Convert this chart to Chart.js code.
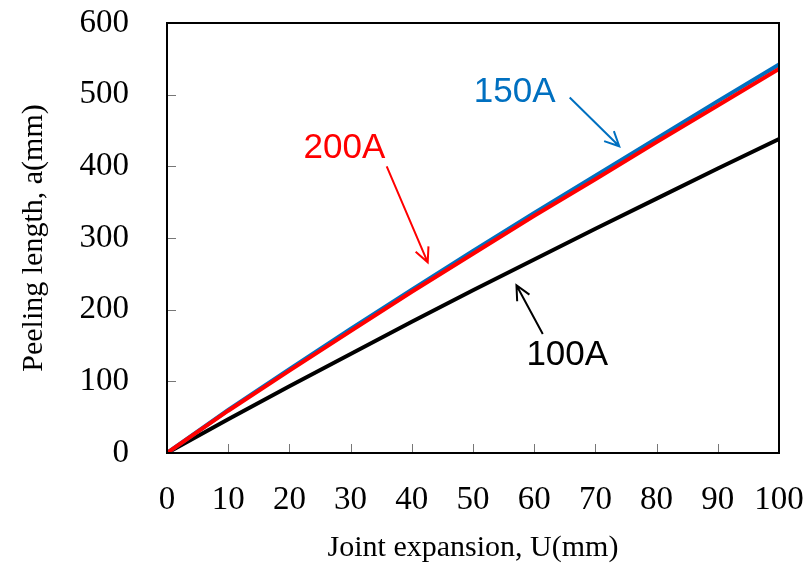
<!DOCTYPE html>
<html>
<head>
<meta charset="utf-8">
<script src="https://cdn.jsdelivr.net/npm/chart.js@4.4.1/dist/chart.umd.min.js"></script>
<style>
  html, body { margin: 0; padding: 0; background: #fff; }
  #wrap { width: 807px; height: 570px; }
</style>
</head>
<body>
<div id="wrap"><canvas id="chart"></canvas></div>
<script>
// ---- data ----
var expansion = [0, 10, 20, 30, 40, 50, 60, 70, 80, 90, 100];
var peel100A = [0, 47, 93, 138, 183, 227, 270, 313, 355, 397, 438];
var peel150A = [0, 60, 117, 173, 228, 282, 335, 387, 439, 491, 542];
var peel200A = [0, 59, 115, 170, 225, 278, 331, 382, 434, 485, 536];

var xTicks = [0, 10, 20, 30, 40, 50, 60, 70, 80, 90, 100];
var yTicks = [0, 100, 200, 300, 400, 500, 600];

// labels with arrows, in data units: text x, y, arrow from x, y to x, y
var labelText = ["150A", "200A", "100A"];
var labelColor = ["#0070C0", "#FF0000", "#000000"];
var labelPos = [[56.8, 503], [29, 425], [65.4, 136]];
var arrowFrom = [[65.8, 496], [35.9, 400], [61.4, 166]];
var arrowTo = [[73.9, 428], [42.6, 266], [57.1, 234]];

function toPoints(ys) {
  return expansion.map(function (x, i) { return { x: x, y: ys[i] }; });
}

// frame + inward ticks + the arrow labels
var extras = {
  id: "extras",
  afterDatasetsDraw: function (chart) {
    var ctx = chart.ctx;
    var a = chart.chartArea;
    var xs = chart.scales.x;
    var ys = chart.scales.y;
    ctx.save();

    ctx.strokeStyle = "#777";
    ctx.lineWidth = 1;
    xTicks.forEach(function (t) {
      var px = Math.round(xs.getPixelForValue(t)) + 0.5;
      ctx.beginPath();
      ctx.moveTo(px, a.bottom);
      ctx.lineTo(px, a.bottom - 9);
      ctx.stroke();
    });
    yTicks.forEach(function (t) {
      var py = Math.round(ys.getPixelForValue(t)) + 0.5;
      ctx.beginPath();
      ctx.moveTo(a.left, py);
      ctx.lineTo(a.left + 9, py);
      ctx.stroke();
    });

    ctx.strokeStyle = "#000";
    ctx.lineWidth = 2;
    ctx.strokeRect(a.left, a.top, a.right - a.left, a.bottom - a.top);

    ctx.font = "35px 'Liberation Sans', Arial, sans-serif";
    ctx.textAlign = "center";
    ctx.textBaseline = "middle";
    for (var i = 0; i < labelText.length; i++) {
      ctx.fillStyle = labelColor[i];
      ctx.fillText(labelText[i], xs.getPixelForValue(labelPos[i][0]), ys.getPixelForValue(labelPos[i][1]));

      var x1 = xs.getPixelForValue(arrowFrom[i][0]), y1 = ys.getPixelForValue(arrowFrom[i][1]);
      var x2 = xs.getPixelForValue(arrowTo[i][0]), y2 = ys.getPixelForValue(arrowTo[i][1]);
      var ang = Math.atan2(y2 - y1, x2 - x1);
      ctx.strokeStyle = labelColor[i];
      ctx.lineWidth = 2;
      ctx.beginPath();
      ctx.moveTo(x1, y1);
      ctx.lineTo(x2, y2);
      ctx.moveTo(x2 - 16 * Math.cos(ang - 0.45), y2 - 16 * Math.sin(ang - 0.45));
      ctx.lineTo(x2, y2);
      ctx.lineTo(x2 - 16 * Math.cos(ang + 0.45), y2 - 16 * Math.sin(ang + 0.45));
      ctx.stroke();
    }
    ctx.restore();
  }
};

var serif = "'Liberation Serif', 'Times New Roman', serif";

new Chart(document.getElementById("chart").getContext("2d"), {
  type: "line",
  data: {
    datasets: [
      { label: "100A", data: toPoints(peel100A), borderColor: "#000000", borderWidth: 4, pointRadius: 0, order: 3 },
      { label: "150A", data: toPoints(peel150A), borderColor: "#0070C0", borderWidth: 4, pointRadius: 0, order: 2 },
      { label: "200A", data: toPoints(peel200A), borderColor: "#FF0000", borderWidth: 4, pointRadius: 0, order: 1 }
    ]
  },
  options: {
    responsive: true,
    maintainAspectRatio: false,
    animation: false,
    layout: { padding: { top: 23, right: 28, left: 12, bottom: 0 } },
    plugins: { legend: { display: false }, tooltip: { enabled: false } },
    elements: { line: { tension: 0 } },
    scales: {
      x: {
        type: "linear",
        min: 0,
        max: 100,
        afterBuildTicks: function (s) { s.ticks = xTicks.map(function (v) { return { value: v }; }); },
        grid: { display: false },
        border: { display: false },
        ticks: { color: "#000", font: { family: serif, size: 33 }, padding: 20, maxRotation: 0 },
        title: { display: true, text: "Joint expansion, U(mm)", color: "#000", font: { family: serif, size: 30 }, padding: { top: 4 } },
        afterFit: function (s) { s.height = 117; s.paddingLeft = 0; s.paddingRight = 0; }
      },
      y: {
        min: 0,
        max: 600,
        afterBuildTicks: function (s) { s.ticks = yTicks.map(function (v) { return { value: v }; }); },
        grid: { display: false },
        border: { display: false },
        ticks: { color: "#000", font: { family: serif, size: 33 }, padding: 30 },
        title: { display: true, text: "Peeling length, a(mm)", color: "#000", font: { family: serif, size: 30 } },
        afterFit: function (s) { s.width = 155; s.paddingTop = 0; s.paddingBottom = 0; }
      }
    }
  },
  plugins: [extras]
});
</script>
</body>
</html>
